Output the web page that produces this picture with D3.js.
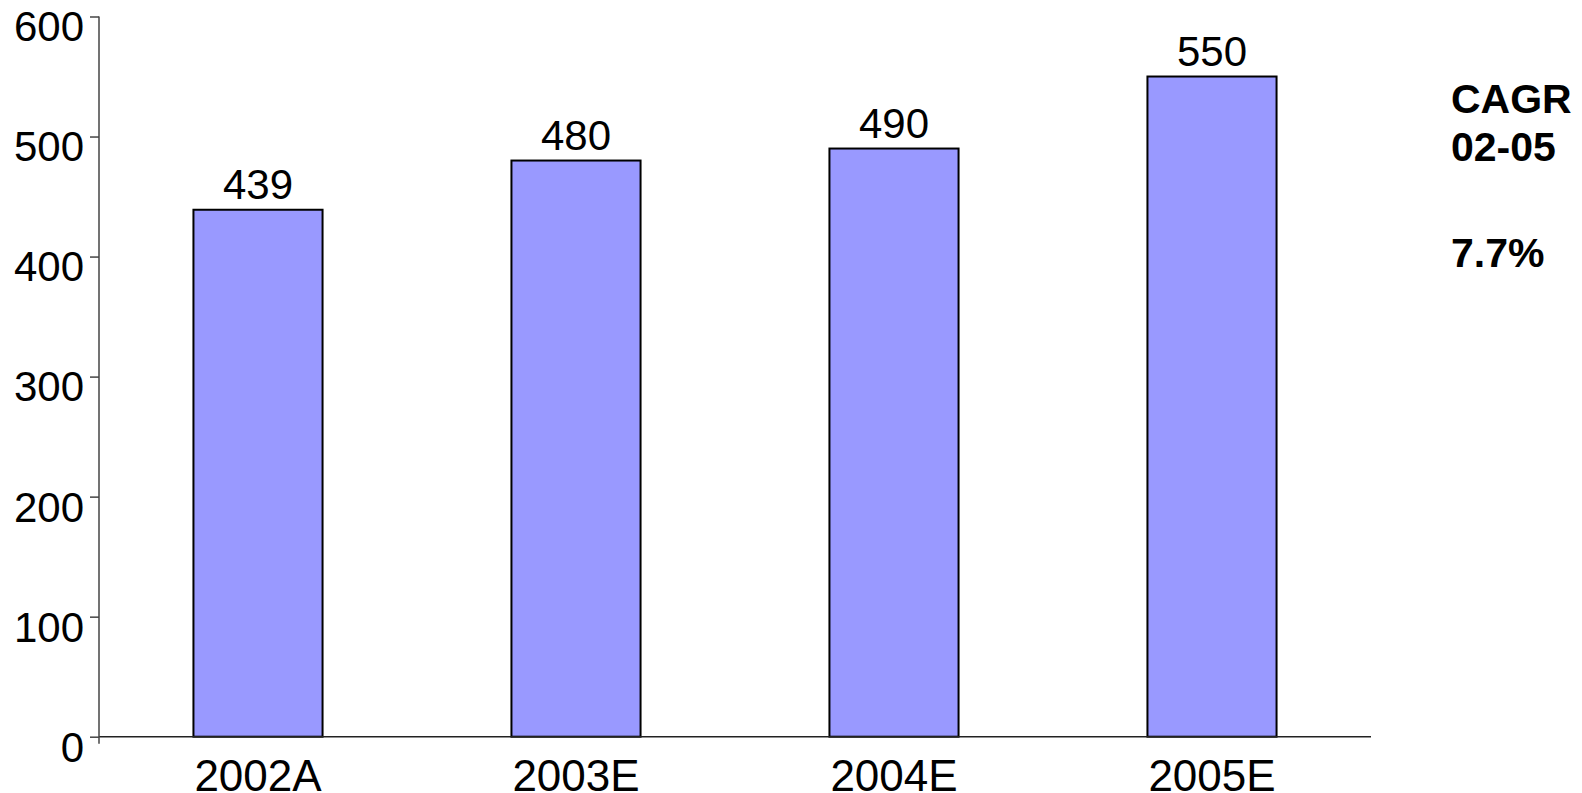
<!DOCTYPE html>
<html>
<head>
<meta charset="utf-8">
<script src="https://cdn.jsdelivr.net/npm/d3@7"></script>
<style>
  html, body { margin: 0; padding: 0; background: #fff; }
  svg { display: block; }
  text { font-family: "Liberation Sans", Arial, sans-serif; fill: #000; }
</style>
</head>
<body>
<svg id="chart" width="1582" height="793"></svg>
<script>
// Revenue by year (A = actual, E = estimate)
const categories = ["2002A", "2003E", "2004E", "2005E"];
const values = [439, 480, 490, 550];
const yTicks = [0, 100, 200, 300, 400, 500, 600];
const cagrLines = ["CAGR", "02-05", "7.7%"];

const svg = d3.select("#chart");
const plot = { left: 99, right: 1371, top: 16.5, bottom: 736.7 };

const x = d3.scaleBand()
  .domain(categories)
  .range([plot.left, plot.right])
  .paddingInner(0.594)
  .paddingOuter(0.297);

const y = d3.scaleLinear()
  .domain([0, 600])
  .range([plot.bottom, plot.top]);

// Bars
svg.append("g")
  .selectAll("rect")
  .data(values)
  .join("rect")
  .attr("x", (d, i) => x(categories[i]))
  .attr("y", d => y(d))
  .attr("width", x.bandwidth())
  .attr("height", d => y(0) - y(d))
  .attr("fill", "#9999ff")
  .attr("stroke", "#000")
  .attr("stroke-width", 2);

// Value labels above bars
svg.append("g")
  .selectAll("text")
  .data(values)
  .join("text")
  .attr("x", (d, i) => x(categories[i]) + x.bandwidth() / 2)
  .attr("y", d => y(d) - 11)
  .attr("text-anchor", "middle")
  .attr("font-size", 42)
  .text(d => d);

// X axis baseline
svg.append("line")
  .attr("x1", plot.left).attr("x2", plot.right)
  .attr("y1", y(0)).attr("y2", y(0))
  .attr("stroke", "#222").attr("stroke-width", 1.5);

// Category labels
svg.append("g")
  .selectAll("text")
  .data(categories)
  .join("text")
  .attr("x", d => x(d) + x.bandwidth() / 2)
  .attr("y", 791)
  .attr("text-anchor", "middle")
  .attr("font-size", 44)
  .text(d => d);

// Y axis
const yAxis = d3.axisLeft(y)
  .tickValues(yTicks)
  .tickSize(9)
  .tickSizeOuter(0)
  .tickPadding(6);

const gy = svg.append("g")
  .attr("transform", `translate(${plot.left},0)`)
  .call(yAxis);

gy.select(".domain").remove();
gy.selectAll(".tick line").attr("stroke", "#444").attr("stroke-width", 1.5);
gy.selectAll(".tick text")
  .attr("font-size", 42)
  .attr("font-family", "Liberation Sans, Arial, sans-serif")
  .attr("fill", "#000")
  .attr("dy", "0.58em");

svg.append("line")
  .attr("x1", plot.left).attr("x2", plot.left)
  .attr("y1", y(600)).attr("y2", y(0) + 7)
  .attr("stroke", "#444").attr("stroke-width", 1.5);

// CAGR annotation
const cagrY = [113, 161, 267];
svg.append("g")
  .selectAll("text")
  .data(cagrLines)
  .join("text")
  .attr("x", 1451)
  .attr("y", (d, i) => cagrY[i])
  .attr("font-size", 41)
  .attr("font-weight", "bold")
  .text(d => d);
</script>
</body>
</html>
